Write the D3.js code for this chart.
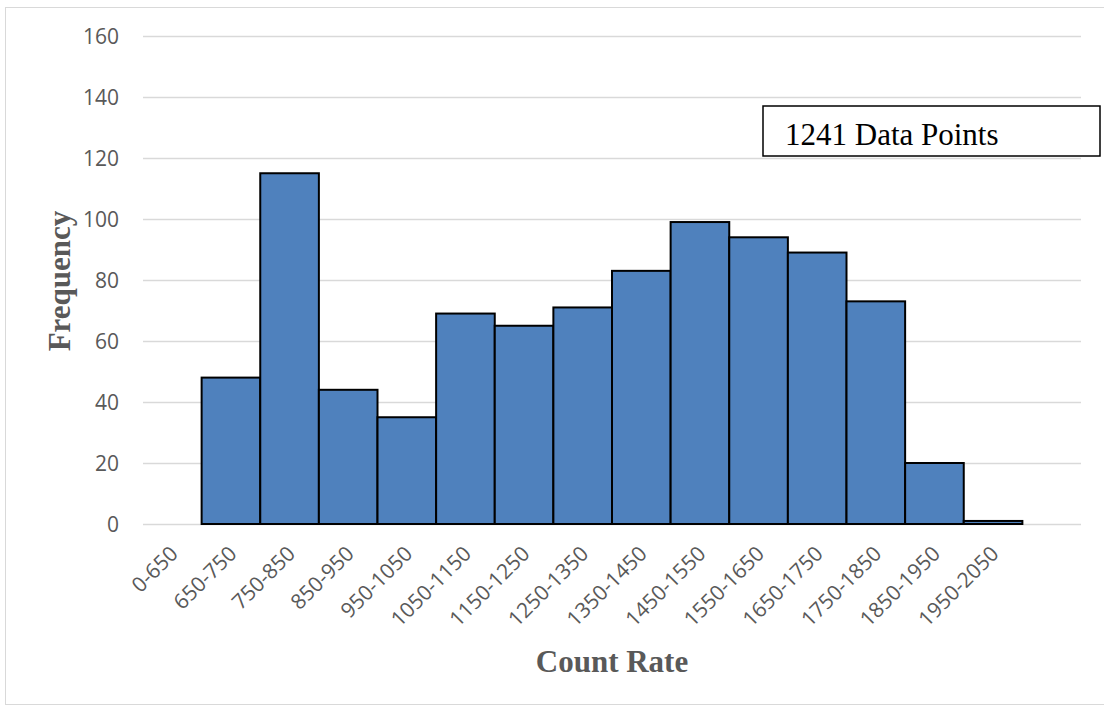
<!DOCTYPE html>
<html><head><meta charset="utf-8">
<script src="https://cdn.jsdelivr.net/npm/d3@7/dist/d3.min.js"></script>
<style>body{margin:0;background:#fff}svg{display:block}</style>
</head><body>
<script>
const categories = ["0-650","650-750","750-850","850-950","950-1050","1050-1150","1150-1250","1250-1350","1350-1450","1450-1550","1550-1650","1650-1750","1750-1850","1850-1950","1950-2050",""];
const frequencies = [0,48,115,44,35,69,65,71,83,99,94,89,73,20,1,0];
const yTicks = [0,20,40,60,80,100,120,140,160];
const annotation = "1241 Data Points";
const xTitle = "Count Rate";
const yTitle = "Frequency";

const W = 1104, H = 711;
const m = {left:143, right:1081, top:36, bottom:524};
const svg = d3.select("body").append("svg").attr("width",W).attr("height",H);

svg.append("rect").attr("x",5.5).attr("y",7.5).attr("width",1110).attr("height",697)
  .attr("fill","#fff").attr("stroke","#d9d9d9").attr("stroke-width",1);

const x = d3.scaleBand().domain(categories.map((c,i)=>i)).range([m.left,m.right]).padding(0);
const y = d3.scaleLinear().domain([0,160]).range([m.bottom,m.top]);

const yAxis = d3.axisLeft(y).tickValues(yTicks).tickSize(-(m.right-m.left)).tickPadding(24);
const gy = svg.append("g").attr("transform",`translate(${m.left},0)`).call(yAxis);
gy.select(".domain").remove();
gy.selectAll(".tick line").attr("stroke","#d9d9d9").attr("stroke-width",1.3);
gy.selectAll(".tick text").attr("fill","#595959").style("font-family","Open Sans, sans-serif").style("font-size","21px").attr("dy","0.35em");

svg.append("g").selectAll("rect").data(frequencies).join("rect")
  .attr("x",(d,i)=>x(i)).attr("width",x.bandwidth())
  .attr("y",d=>y(d)).attr("height",d=>y(0)-y(d))
  .attr("fill","#4f81bd").attr("stroke","#000").attr("stroke-width",2)
  .style("display",d=>d>0?null:"none");

const xAxis = d3.axisBottom(x).tickFormat(i=>categories[i]).tickSize(0).tickPadding(0);
const gx = svg.append("g").attr("transform",`translate(0,${m.bottom})`).call(xAxis);
gx.select(".domain").remove();
gx.selectAll(".tick text").attr("fill","#595959").style("font-family","Open Sans, sans-serif").style("font-size","21px")
  .attr("text-anchor","end").attr("dy",0).attr("y",0)
  .attr("transform","translate(7,31) rotate(-45)");

svg.append("text").attr("x",612).attr("y",672).attr("text-anchor","middle")
  .attr("fill","#595959").style("font-family","Liberation Serif, serif").style("font-weight","bold").style("font-size","31px").text(xTitle);
svg.append("text").attr("transform","translate(70,281) rotate(-90)").attr("text-anchor","middle")
  .attr("fill","#595959").style("font-family","Liberation Serif, serif").style("font-weight","bold").style("font-size","31px").text(yTitle);

svg.append("rect").attr("x",763).attr("y",106).attr("width",337).attr("height",50)
  .attr("fill","#fff").attr("stroke","#000").attr("stroke-width",1.5);
svg.append("text").attr("x",785).attr("y",145).attr("fill","#000")
  .style("font-family","Liberation Serif, serif").style("font-size","31px").text(annotation);
</script>
</body></html>
